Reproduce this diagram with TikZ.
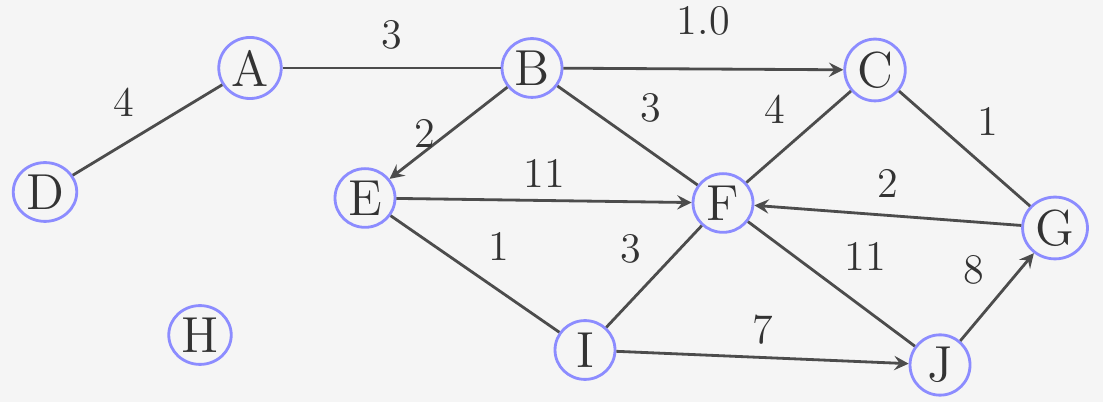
\documentclass[tikz,border=0pt]{standalone}
\usepackage{tikz}
\usetikzlibrary{shapes.geometric}
\begin{document}
\begin{tikzpicture}[x=0.1mm,y=-0.1mm,>=stealth,
  vtx/.style={draw=blue!45,thick,ellipse,font=\Large,minimum width=6mm,minimum height=4.6mm,inner sep=1pt,text=black!80},
  wt/.style={draw=none,font=\large,text=black!80},
  lnk/.style={draw=black!70,thick}]
\useasboundingbox[fill=black!4] (0,0) rectangle (1103,402);
\node[vtx] (vA) at (250,68) {A}; \node[vtx] (vB) at (532,68) {B}; \node[vtx] (vC) at (875,70) {C};
\node[vtx] (vD) at (45,192) {D}; \node[vtx] (vE) at (365,198) {E}; \node[vtx] (vF) at (723,203) {F};
\node[vtx] (vG) at (1055,228) {G}; \node[vtx] (vH) at (200,335) {H}; \node[vtx] (vI) at (585,350) {I};
\node[vtx] (vJ) at (940,365) {J};
\draw[lnk] (vD) -- node[wt,above left] {4} (vA);
\draw[lnk] (vA) -- node[wt,above=0.5mm] {3} (vB);
\draw[lnk,->] (vB) -- node[wt,above=2mm] {1.0} (vC);
\draw[lnk,->] (vB) -- node[wt,left] {2} (vE);
\draw[lnk] (vB) -- node[wt,above right] {3} (vF);
\draw[lnk] (vF) -- node[wt,above left] {4} (vC);
\draw[lnk] (vC) -- node[wt,above right] {1} (vG);
\draw[lnk,->] (vE) -- node[wt,above] {11} (vF);
\draw[lnk,->] (vG) -- node[wt,above=0.5mm] {2} (vF);
\draw[lnk] (vE) -- node[wt,above right] {1} (vI);
\draw[lnk] (vI) -- node[wt,above left] {3} (vF);
\draw[lnk] (vF) -- node[wt,above right] {11} (vJ);
\draw[lnk,->] (vJ) -- node[wt,above left] {8} (vG);
\draw[lnk,->] (vI) -- node[wt,above] {7} (vJ);
\end{tikzpicture}
\end{document}
